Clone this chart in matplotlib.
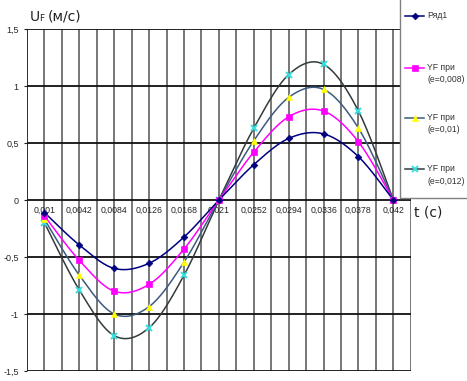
import numpy as np
import matplotlib
matplotlib.use("Agg")
import matplotlib.pyplot as plt
from matplotlib.lines import Line2D
from matplotlib.patches import Rectangle

# ---- data ----
t_labels = ['0,001', '0,0042', '0,0084', '0,0126', '0,0168', '0,021',
            '0,0252', '0,0294', '0,0336', '0,0378', '0,042']
ryad1 = [-0.11, -0.395, -0.60, -0.555, -0.325, 0.0, 0.31, 0.54, 0.58, 0.38, 0.0]
yf_e008 = [-0.14, -0.53, -0.80, -0.74, -0.43, 0.0, 0.42, 0.73, 0.78, 0.51, 0.0]
yf_e010 = [-0.17, -0.66, -1.00, -0.935, -0.545, 0.0, 0.52, 0.90, 0.97, 0.63, 0.0]
yf_e012 = [-0.20, -0.79, -1.19, -1.12, -0.66, 0.0, 0.63, 1.10, 1.19, 0.78, 0.0]
y_ticks = [1.5, 1.0, 0.5, 0.0, -0.5, -1.0, -1.5]
y_tick_labels = ['1,5', '1', '0,5', '0', '-0,5', '-1', '-1,5']
series_names = ['Ряд1', 'YF при\n(e=0,008)', 'YF при\n(e=0,01)', 'YF при\n(e=0,012)']

W, H = 467, 381
SMALL = ['Liberation Sans Narrow', 'Liberation Sans', 'DejaVu Sans']


def smooth(y, n=30):
    """Excel-like smoothed line (Catmull-Rom / Bezier)."""
    x = np.arange(len(y), dtype=float)
    y = np.asarray(y, dtype=float)
    P = np.column_stack([x, y])
    pts = []
    for i in range(len(P) - 1):
        p0 = P[i - 1] if i > 0 else P[i]
        p1 = P[i]
        p2 = P[i + 1]
        p3 = P[i + 2] if i + 2 < len(P) else P[i + 1]
        c1 = p1 + (p2 - p0) / 6.0
        c2 = p2 - (p3 - p1) / 6.0
        s = np.linspace(0, 1, n, endpoint=(i == len(P) - 2))[:, None]
        b = ((1 - s) ** 3) * p1 + 3 * ((1 - s) ** 2) * s * c1 + 3 * (1 - s) * s ** 2 * c2 + s ** 3 * p2
        pts.append(b)
    pts = np.vstack(pts)
    return pts[:, 0], pts[:, 1]


fig = plt.figure(figsize=(W / 100, H / 100), dpi=100)
fig.patch.set_facecolor('white')

left, right, top, bottom = 27, 410.8, 29, 371
ax = fig.add_axes([left / W, 1 - bottom / H, (right - left) / W, (bottom - top) / H])
ax.set_xlim(-0.5, 10.5)
ax.set_ylim(-1.5, 1.5)
for s in ax.spines.values():
    s.set_visible(False)

# grid
for xv in np.arange(0.0, 10.51, 0.5):
    ax.axvline(xv, color='#606060', lw=1.2, zorder=1)
ax.axvline(-0.5, color='#202020', lw=1.3, zorder=1)
for yv in y_ticks:
    ax.axhline(yv, color='#101010', lw=1.3, zorder=1)

ax.set_xticks([])
ax.set_yticks(y_ticks)
ax.set_yticklabels(y_tick_labels, fontfamily=SMALL, fontsize=6.5, color='#262626')
ax.tick_params(axis='y', length=2, pad=4, color='#202020')

# x category labels at the zero line
for i, lab in enumerate(t_labels):
    ax.text(i, -0.09, lab, ha='center', va='center', fontsize=6.3,
            fontfamily=SMALL, color='#262626', zorder=1.5)

styles = [
    dict(data=ryad1, color='#000080', marker='D', ms=3.4, mfc='#000080', mec='#000080', mew=0.5),
    dict(data=yf_e008, color='#FF00FF', marker='s', ms=4.4, mfc='#FF00FF', mec='#FF00FF', mew=0.5),
    dict(data=yf_e010, color='#3d5a80', marker='^', ms=4.6, mfc='#FFFF00', mec='#FFFF00', mew=0.5),
    dict(data=yf_e012, color='#333b3b', marker='x', ms=4.0, mfc='#33E0E0', mec='#33E0E0', mew=1.4),
]
x_idx = np.arange(len(t_labels))
for st in styles[::-1]:
    xs, ys = smooth(st['data'])
    ax.plot(xs, ys, color=st['color'], lw=1.1, zorder=3)
    ax.plot(x_idx, st['data'], ls='none', marker=st['marker'], ms=st['ms'],
            mfc=st['mfc'], mec=st['mec'], mew=st['mew'], zorder=4)

# axis titles
fig.text(30 / W, 1 - 21 / H, 'U', fontsize=10, color='#202020', va='baseline', ha='left',
         fontfamily='DejaVu Sans')
fig.text(39.5 / W, 1 - 21 / H, 'F', fontsize=6.5, color='#202020', va='baseline', ha='left',
         fontfamily='DejaVu Sans')
fig.text(48 / W, 1 - 21 / H, '(м/с)', fontsize=10, color='#202020', va='baseline', ha='left',
         fontfamily='DejaVu Sans')
fig.text(414 / W, 1 - 217 / H, 't (c)', fontsize=10, color='#202020', va='baseline', ha='left',
         fontfamily='DejaVu Sans')

# legend box
fig.add_artist(Rectangle((400 / W, 1 - 198 / H), 80 / W, 210 / H, transform=fig.transFigure,
                         facecolor='white', edgecolor='#808080', lw=1.0, zorder=5))
leg_y = [16, 68, 118, 169]
for st, name, ly in zip(styles, series_names, leg_y):
    fy = 1 - ly / H
    fig.add_artist(Line2D([405 / W, 424 / W], [fy, fy], transform=fig.transFigure,
                          color=st['color'], lw=1.1, zorder=6))
    fig.add_artist(Line2D([414.5 / W], [fy], transform=fig.transFigure, ls='none',
                          marker=st['marker'], ms=st['ms'], mfc=st['mfc'], mec=st['mec'],
                          mew=st['mew'], zorder=7))
    lines = name.split('\n')
    for k, ln in enumerate(lines):
        fig.text(427 / W, 1 - (ly + 12 * k) / H, ln, fontsize=6.2, color='#333333',
                 va='center', ha='left', fontfamily=['Liberation Sans', 'DejaVu Sans'], zorder=7)

fig.savefig('out.png', dpi=100, facecolor='white')
